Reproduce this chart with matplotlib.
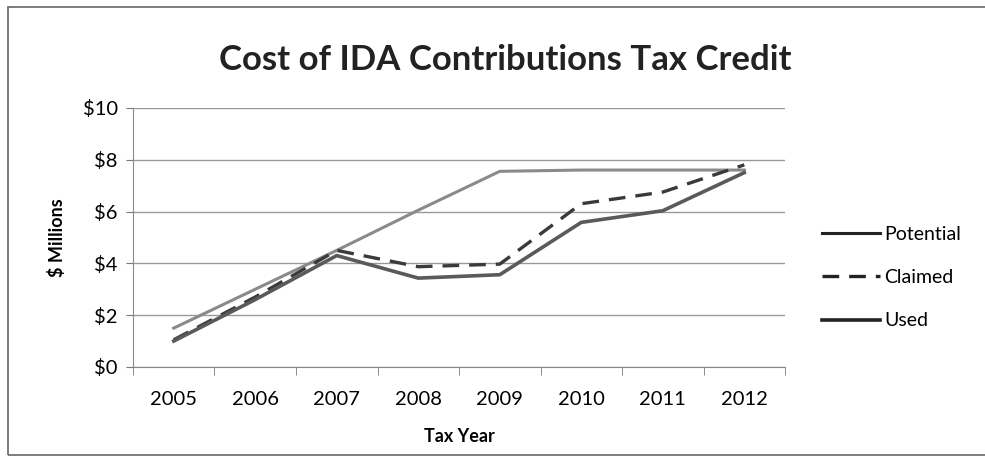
import numpy as np
import matplotlib.pyplot as plt
from matplotlib.patches import Rectangle

plt.rcParams['font.family'] = ['Lato', 'DejaVu Sans']

years = ['2005', '2006', '2007', '2008', '2009', '2010', '2011', '2012']
potential = [1.5, 3.0, 4.5, 6.05, 7.55, 7.6, 7.6, 7.6]
claimed = [1.05, 2.7, 4.5, 3.87, 3.97, 6.3, 6.75, 7.8]
used = [1.0, 2.6, 4.3, 3.43, 3.56, 5.58, 6.03, 7.5]

fig = plt.figure(figsize=(9.85, 4.72), dpi=100)
ax = fig.add_axes([0.135, 0.2225, 0.662, 0.549])

x = np.arange(len(years))
ax.plot(x, potential, color='#8a8a8a', linewidth=2.2, label='Potential')
ax.plot(x, claimed, color='#3a3a3a', linewidth=2.4, dashes=(5, 3), label='Claimed')
ax.plot(x, used, color='#5a5a5a', linewidth=2.6, label='Used')

ax.set_xlim(-0.5, 7.5)
ax.set_ylim(0, 10)
ax.set_yticks(np.arange(0, 11, 2))
ax.set_yticklabels(['$%d' % v for v in range(0, 11, 2)], fontsize=14.5)
ax.set_xticks(x)
ax.set_xticklabels(years, fontsize=14.5)
ax.set_xticks(np.arange(-0.5, 8, 1), minor=True)
ax.tick_params(axis='x', which='major', length=0, pad=17)
ax.tick_params(axis='x', which='minor', length=6, color='#777777', direction='out')
ax.tick_params(axis='y', length=5, color='#777777', pad=6)
ax.grid(axis='y', color='#999999', linewidth=1)
ax.set_axisbelow(True)
for s in ['top', 'right']:
    ax.spines[s].set_visible(False)
ax.spines['left'].set_color('#888888')
ax.spines['bottom'].set_color('#888888')

ax.set_xlabel('Tax Year', fontsize=13, fontweight='bold', labelpad=15)
ax.set_ylabel('$ Millions', fontsize=13, fontweight='bold', labelpad=12)
fig.text(0.513, 0.872, 'Cost of IDA Contributions Tax Credit', fontsize=25,
         fontweight='bold', ha='center', va='center', color='#222222')

leg = ax.legend(loc='center left', bbox_to_anchor=(1.03, 0.345), frameon=False,
                fontsize=14, handlelength=3.0, handletextpad=0.2, labelspacing=1.35)
for line in leg.get_lines():
    line.set_color('#222222')

fig.patches.append(Rectangle((0.008, 0.035), 1.0, 0.95, transform=fig.transFigure,
                             fill=False, edgecolor='#666666', linewidth=1.2))

fig.savefig('out.png', dpi=100)
